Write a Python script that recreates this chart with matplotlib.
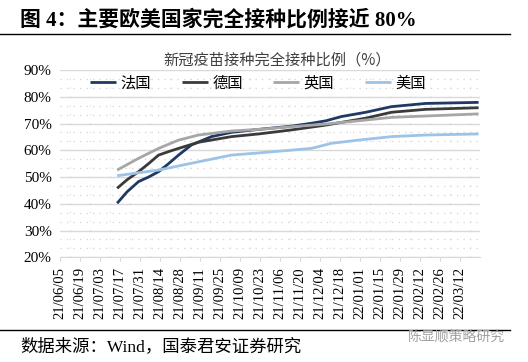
import numpy as np
import pandas as pd
import matplotlib
matplotlib.use("Agg")
from matplotlib import pyplot as plt

plt.rcParams["font.family"] = ["Liberation Serif", "Noto Sans CJK SC"]

# 读取的数值（完全接种比例，%）
fr_dates = ["2021-07-15", "2021-07-22", "2021-07-30", "2021-08-06", "2021-08-13",
            "2021-08-20", "2021-08-27", "2021-09-05", "2021-09-19", "2021-10-03",
            "2021-10-22", "2021-11-14", "2021-11-28", "2021-12-08", "2021-12-19",
            "2022-01-05", "2022-01-23", "2022-02-16", "2022-03-25"]
fr_vals = [40.2, 44.5, 48.3, 50.0, 52.0, 55.0, 58.2, 62.0, 65.1, 66.7,
           67.8, 69.0, 70.1, 71.0, 72.6, 74.2, 76.3, 77.5, 77.9]

de_dates = ["2021-07-15", "2021-07-22", "2021-07-30", "2021-08-06", "2021-08-13",
            "2021-08-20", "2021-08-27", "2021-09-10", "2021-10-03", "2021-10-22",
            "2021-11-14", "2021-12-08", "2022-01-05", "2022-01-23", "2022-02-16",
            "2022-03-25"]
de_vals = [45.8, 49.0, 52.0, 55.0, 58.2, 59.5, 60.7, 63.0, 65.1, 66.1,
           67.6, 69.4, 72.0, 74.2, 75.3, 75.9]

uk_dates = ["2021-07-15", "2021-07-30", "2021-08-13", "2021-08-27", "2021-09-10",
            "2021-10-03", "2021-10-22", "2021-11-14", "2021-12-08", "2022-01-05",
            "2022-01-23", "2022-02-16", "2022-03-25"]
uk_vals = [52.6, 57.0, 60.7, 63.8, 65.7, 67.2, 67.8, 68.8, 69.8, 71.3,
           72.3, 72.8, 73.6]

us_dates = ["2021-07-15", "2021-08-13", "2021-09-10", "2021-10-03", "2021-10-22",
            "2021-11-28", "2021-12-12", "2021-12-31", "2022-01-23", "2022-02-16",
            "2022-03-25"]
us_vals = [50.5, 52.6, 55.7, 58.2, 59.0, 60.7, 62.6, 63.8, 65.1, 65.7, 66.1]

series = [
    ("法国", fr_dates, fr_vals, "#1f3864"),
    ("德国", de_dates, de_vals, "#3a3a3a"),
    ("英国", uk_dates, uk_vals, "#a6a6a6"),
    ("美国", us_dates, us_vals, "#9dc3e6"),
]

fig = plt.figure(figsize=(5.28, 3.62), dpi=100)
ax = fig.add_axes([60 / 528, 1 - 257.3 / 362, 420 / 528, 187.3 / 362])

for name, d, v, c in series:
    ax.plot(pd.to_datetime(d), np.array(v) / 100, color=c, lw=2.0, label=name,
            solid_capstyle="butt")

ax.set_ylim(0.2, 0.9)
ax.set_yticks(np.arange(0.2, 0.91, 0.1))
ax.set_yticklabels([f"{int(round(t * 100))}%" for t in np.arange(0.2, 0.91, 0.1)],
                   fontsize=11)
ax.set_yticks(np.arange(0.2, 0.9, 0.1 / 3), minor=True)

start = pd.Timestamp("2021-06-05")
ax.set_xlim(start, pd.Timestamp("2022-03-26"))
xt = pd.date_range(start, periods=21, freq="14D")
ax.set_xticks(xt)
ax.set_xticklabels([t.strftime("%y/%m/%d") for t in xt], rotation=90, fontsize=10.5)
ax.set_xticks(pd.date_range(start, pd.Timestamp("2022-03-26"), freq="7D")[1::2], minor=True)

ax.grid(axis="y", which="major", color="#d9d9d9", lw=1.0)
ax.grid(axis="y", which="minor", color="#d4d4d4", lw=0.9, linestyle=(0, (1, 4.2)))
ax.grid(axis="x", which="minor", color="#dcdcdc", lw=0.8, linestyle=(0, (1, 7)))
ax.set_axisbelow(True)

for s in ["left", "right", "top"]:
    ax.spines[s].set_visible(False)
ax.spines["bottom"].set_color("#d9d9d9")
ax.tick_params(axis="y", which="both", length=0, pad=6, colors="#000000")
ax.tick_params(axis="x", which="major", length=3, color="#d9d9d9", pad=4)
ax.tick_params(axis="x", which="minor", length=0)

ax.legend(loc="center", bbox_to_anchor=(258 / 528, 1 - 83 / 362),
          bbox_transform=fig.transFigure, ncol=4, frameon=False,
          prop={"family": ["Noto Sans CJK SC"], "size": 11},
          handlelength=1.7, handletextpad=0.3, columnspacing=2.0)

fig.text(277 / 528, 1 - 60 / 362, "新冠疫苗接种完全接种比例（%）", ha="center", va="center",
         fontsize=11, color="#404040", family=["Noto Sans CJK SC"])

fig.text(20 / 528, 1 - 20 / 362, "图 4：主要欧美国家完全接种比例接近 80%", ha="left",
         va="center", fontsize=15, fontweight="bold")

fig.add_artist(plt.Line2D([0, 510 / 528], [1 - 34 / 362] * 2, color="black", lw=1.0))
fig.add_artist(plt.Line2D([0, 510 / 528], [1 - 330 / 362] * 2, color="black", lw=1.0))

fig.text(20 / 528, 1 - 347 / 362, "数据来源：Wind，国泰君安证券研究", ha="left",
         va="center", fontsize=12.5)
fig.text(505 / 528, 1 - 337 / 362, "陈显顺策略研究", ha="right", va="center",
         fontsize=10, color="#a0a0a0", family=["Noto Sans CJK SC"])

fig.savefig("out.png", dpi=100)
